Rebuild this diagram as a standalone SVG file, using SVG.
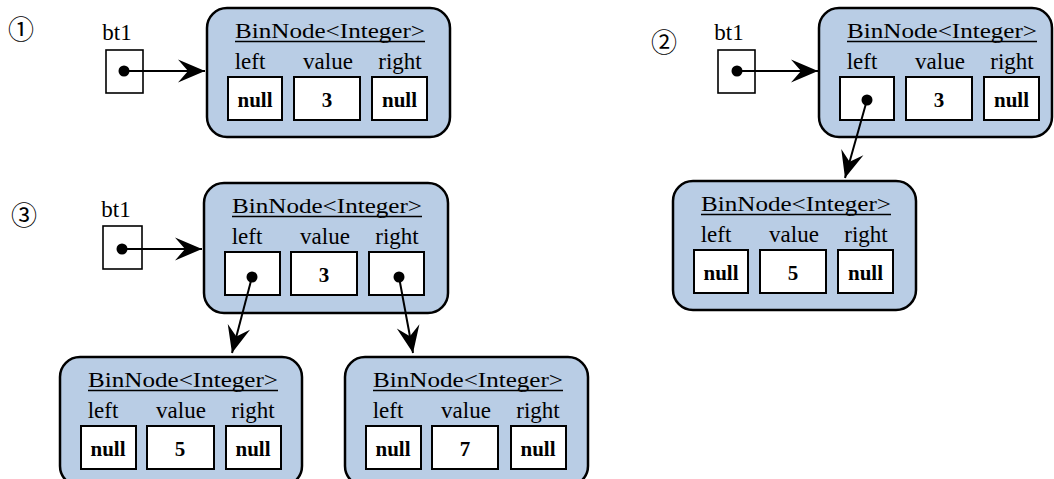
<svg xmlns="http://www.w3.org/2000/svg" width="1054" height="479" viewBox="0 0 1054 479">
  <style>
    .node { fill: #b9cde5; stroke: #000; stroke-width: 2.5; }
    .field { fill: #fff; stroke: #000; stroke-width: 2; }
    .title { font-family: "Liberation Serif", "Times New Roman", serif; font-size: 22px; fill: #000; text-anchor: middle; }
    .uline { stroke: #000; stroke-width: 1.6; }
    .lbl { font-family: "Liberation Serif", "Times New Roman", serif; font-size: 23px; fill: #000; text-anchor: middle; }
    .val { font-family: "Liberation Serif", "Times New Roman", serif; font-size: 21px; font-weight: bold; fill: #000; text-anchor: middle; }
    .var { fill: #fff; stroke: #000; stroke-width: 1.6; }
    .step { font-family: "Noto Sans CJK SC", "DejaVu Sans", sans-serif; font-size: 26px; fill: #000; text-anchor: middle; dominant-baseline: central; }
    .link { stroke: #000; stroke-width: 2; fill: none; }
    .dot { fill: #000; }
  </style>
  <defs>
    <marker id="head" markerUnits="userSpaceOnUse" markerWidth="30" markerHeight="26" refX="28" refY="13" orient="auto" overflow="visible">
      <path d="M28,13 L1,1.5 L11,13 L1,24.5 Z" fill="#000"/>
    </marker>
  </defs>

  <!-- step numbers -->
  <text class="step" x="21" y="27">①</text>
  <text class="step" x="664" y="40">②</text>
  <text class="step" x="24" y="213">③</text>

  <!-- reference variables -->
  <g id="var1">
    <text class="lbl" x="117" y="40">bt1</text>
    <rect class="var" x="106" y="50" width="37" height="43"/>
  </g>
  <g id="var2">
    <text class="lbl" x="729" y="40">bt1</text>
    <rect class="var" x="718" y="50" width="37" height="43"/>
  </g>
  <g id="var3">
    <text class="lbl" x="116" y="217">bt1</text>
    <rect class="var" x="103" y="226" width="39" height="43"/>
  </g>

  <!-- step 1: single node -->
  <g id="n1" transform="translate(207,8)">
    <rect class="node" x="0" y="0" width="243" height="129" rx="20"/>
    <text class="title" x="123" y="30" textLength="190" lengthAdjust="spacingAndGlyphs">BinNode&lt;Integer&gt;</text>
    <line class="uline" x1="28" y1="33.5" x2="218" y2="33.5"/>
    <text class="lbl" x="43" y="61">left</text>
    <text class="lbl" x="121" y="61">value</text>
    <text class="lbl" x="193" y="61">right</text>
    <rect class="field" x="21" y="69" width="54" height="43"/>
    <rect class="field" x="87" y="69" width="66" height="43"/>
    <rect class="field" x="165" y="69" width="55" height="43"/>
    <text class="val" x="48" y="99">null</text>
    <text class="val" x="120" y="99">3</text>
    <text class="val" x="192.5" y="99">null</text>
  </g>

  <!-- step 2: root with left child -->
  <g id="n2" transform="translate(819,8)">
    <rect class="node" x="0" y="0" width="233" height="129" rx="20"/>
    <text class="title" x="123" y="30" textLength="190" lengthAdjust="spacingAndGlyphs">BinNode&lt;Integer&gt;</text>
    <line class="uline" x1="28" y1="33.5" x2="218" y2="33.5"/>
    <text class="lbl" x="43" y="61">left</text>
    <text class="lbl" x="121" y="61">value</text>
    <text class="lbl" x="193" y="61">right</text>
    <rect class="field" x="21" y="69" width="54" height="43"/>
    <rect class="field" x="87" y="69" width="66" height="43"/>
    <rect class="field" x="165" y="69" width="55" height="43"/>
    <text class="val" x="120" y="99">3</text>
    <text class="val" x="192.5" y="99">null</text>
  </g>
  <g id="n2l" transform="translate(673,181)">
    <rect class="node" x="0" y="0" width="243" height="129" rx="20"/>
    <text class="title" x="123" y="30" textLength="190" lengthAdjust="spacingAndGlyphs">BinNode&lt;Integer&gt;</text>
    <line class="uline" x1="28" y1="33.5" x2="218" y2="33.5"/>
    <text class="lbl" x="43" y="61">left</text>
    <text class="lbl" x="121" y="61">value</text>
    <text class="lbl" x="193" y="61">right</text>
    <rect class="field" x="21" y="69" width="54" height="43"/>
    <rect class="field" x="87" y="69" width="66" height="43"/>
    <rect class="field" x="165" y="69" width="55" height="43"/>
    <text class="val" x="48" y="99">null</text>
    <text class="val" x="120" y="99">5</text>
    <text class="val" x="192.5" y="99">null</text>
  </g>

  <!-- step 3: root with two children -->
  <g id="n3" transform="translate(204,183)">
    <rect class="node" x="0" y="0" width="244" height="130" rx="20"/>
    <text class="title" x="123" y="30" textLength="190" lengthAdjust="spacingAndGlyphs">BinNode&lt;Integer&gt;</text>
    <line class="uline" x1="28" y1="33.5" x2="218" y2="33.5"/>
    <text class="lbl" x="43" y="61">left</text>
    <text class="lbl" x="121" y="61">value</text>
    <text class="lbl" x="193" y="61">right</text>
    <rect class="field" x="21" y="69" width="55" height="43"/>
    <rect class="field" x="87" y="69" width="66" height="43"/>
    <rect class="field" x="165" y="69" width="55" height="43"/>
    <text class="val" x="120" y="99">3</text>
  </g>
  <g id="n3l" transform="translate(60,357)">
    <rect class="node" x="0" y="0" width="242" height="129" rx="20"/>
    <text class="title" x="123" y="30" textLength="190" lengthAdjust="spacingAndGlyphs">BinNode&lt;Integer&gt;</text>
    <line class="uline" x1="28" y1="33.5" x2="218" y2="33.5"/>
    <text class="lbl" x="43" y="61">left</text>
    <text class="lbl" x="121" y="61">value</text>
    <text class="lbl" x="193" y="61">right</text>
    <rect class="field" x="21" y="69" width="55" height="43"/>
    <rect class="field" x="87" y="69" width="67" height="43"/>
    <rect class="field" x="166" y="69" width="55" height="43"/>
    <text class="val" x="48" y="99">null</text>
    <text class="val" x="120" y="99">5</text>
    <text class="val" x="193" y="99">null</text>
  </g>
  <g id="n3r" transform="translate(345,357)">
    <rect class="node" x="0" y="0" width="243" height="129" rx="20"/>
    <text class="title" x="123" y="30" textLength="190" lengthAdjust="spacingAndGlyphs">BinNode&lt;Integer&gt;</text>
    <line class="uline" x1="28" y1="33.5" x2="218" y2="33.5"/>
    <text class="lbl" x="43" y="61">left</text>
    <text class="lbl" x="121" y="61">value</text>
    <text class="lbl" x="193" y="61">right</text>
    <rect class="field" x="21" y="69" width="55" height="43"/>
    <rect class="field" x="87" y="69" width="66" height="43"/>
    <rect class="field" x="166" y="69" width="55" height="43"/>
    <text class="val" x="48" y="99">null</text>
    <text class="val" x="120" y="99">7</text>
    <text class="val" x="193" y="99">null</text>
  </g>

  <!-- references -->
  <g id="connectors">
    <line class="link" x1="124" y1="71" x2="205" y2="71" marker-end="url(#head)"/>
    <circle class="dot" cx="124" cy="71" r="5.5"/>

    <line class="link" x1="737" y1="71" x2="818" y2="71" marker-end="url(#head)"/>
    <circle class="dot" cx="737" cy="71" r="5.5"/>
    <line class="link" x1="867" y1="100" x2="845" y2="178" marker-end="url(#head)"/>
    <circle class="dot" cx="867" cy="100" r="5.5"/>

    <line class="link" x1="122" y1="249" x2="202" y2="249" marker-end="url(#head)"/>
    <circle class="dot" cx="122" cy="249" r="5.5"/>
    <line class="link" x1="252" y1="277" x2="232" y2="353" marker-end="url(#head)"/>
    <circle class="dot" cx="252" cy="277" r="5.5"/>
    <line class="link" x1="399" y1="277" x2="413" y2="353" marker-end="url(#head)"/>
    <circle class="dot" cx="399" cy="277" r="5.5"/>
  </g>
</svg>
